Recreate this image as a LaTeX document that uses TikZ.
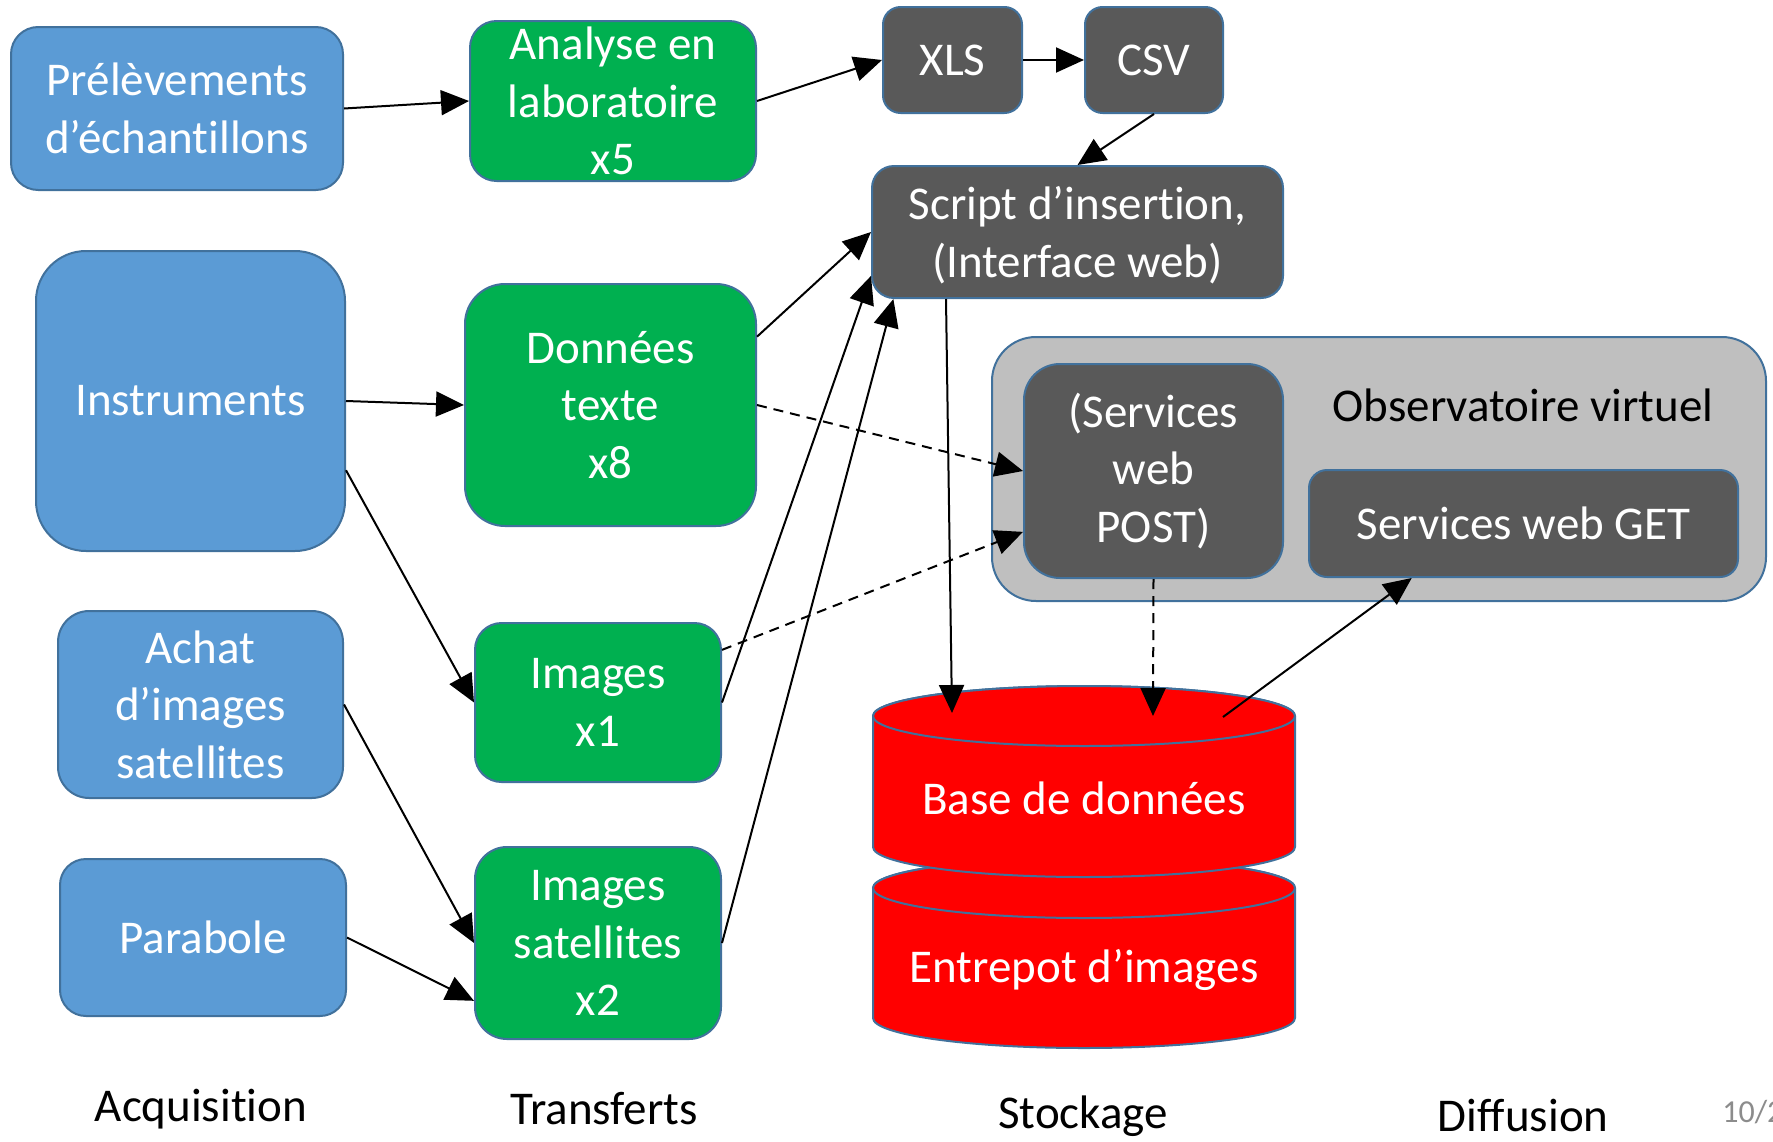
\documentclass[tikz,border=0pt]{standalone}
\usepackage{fontspec}
\setmainfont[RawFeature={-liga}]{Carlito}
\usetikzlibrary{arrows.meta,calc}
\definecolor{bordc}{HTML}{41719C}
\definecolor{bluef}{HTML}{5B9BD5}
\definecolor{greenf}{HTML}{00B050}
\definecolor{darkf}{HTML}{595959}
\definecolor{grayf}{HTML}{BFBFBF}
\definecolor{redf}{HTML}{FF0000}
\definecolor{pnumc}{HTML}{8C8C8C}
\newcommand\fs{\fontsize{23.5pt}{28.8pt}\selectfont}
\begin{document}
\begin{tikzpicture}[x=0.5pt,y=-0.5pt,
  box/.style={rectangle, draw=bordc, line width=1pt, align=center, text=white, font=\fs, inner sep=0pt},
  bluebox/.style={box, fill=bluef},
  greenbox/.style={box, fill=greenf},
  darkbox/.style={box, fill=darkf},
  graybox/.style={box, fill=grayf},
  boxtext/.style={align=center, text=white, font=\fs, inner sep=0pt},
  lbl/.style={align=center, text=black, font=\fs, inner sep=0pt},
  arr/.style={-{Triangle[length=14pt,width=12.5pt]}, line width=1pt, black},
  dsh/.style={dash pattern=on 5pt off 3.5pt},
  cyl/.style={fill=redf, draw=bordc, line width=1pt}
]
\fill[white] (0,0) rectangle (1773,1141);
\useasboundingbox (0,0) rectangle (1773,1141);

% Acquisition column
\node[bluebox, minimum width=166pt, minimum height=81.5pt, rounded corners=13.6pt] (prel) at (177,108.5) {Prélèvements\\d’échantillons};
\node[bluebox, minimum width=154.5pt, minimum height=150pt, rounded corners=25pt] (inst) at (190.5,401) {Instruments};
\node[bluebox, minimum width=142.5pt, minimum height=93.5pt, rounded corners=15.6pt] (achat) at (200.5,704.5) {Achat\\d’images\\satellites};
\node[bluebox, minimum width=143pt, minimum height=78.5pt, rounded corners=13pt] (para) at (203,937.5) {Parabole};

% Transferts column
\node[greenbox, minimum width=143pt, minimum height=80pt, rounded corners=13.3pt] (ana) at (613,101) {};
\node[boxtext] (anatext) at (ana.center) {Analyse en\\laboratoire\\x5};
\node[greenbox, minimum width=145.5pt, minimum height=121pt, rounded corners=20pt] (don) at (610.5,405) {Données\\texte\\x8};
\node[greenbox, minimum width=123pt, minimum height=79.5pt, rounded corners=13.3pt] (img1) at (598,702.5) {Images\\x1};
\node[greenbox, minimum width=123pt, minimum height=96pt, rounded corners=16pt] (img2) at (598,943) {Images\\satellites\\x2};

% Processing
\node[darkbox, minimum width=69.5pt, minimum height=53pt, rounded corners=8.8pt] (xls) at (952.5,60) {XLS};
\node[darkbox, minimum width=69pt, minimum height=53pt, rounded corners=8.8pt] (csv) at (1154,60) {CSV};
\node[darkbox, minimum width=205.5pt, minimum height=66pt, rounded corners=11pt] (script) at (1077.5,232) {};
\node[boxtext] (scripttext) at (1077.5,235) {Script d’insertion,\\(Interface web)};

% Observatoire virtuel
\node[graybox, minimum width=387pt, minimum height=132pt, rounded corners=22pt] (obs) at (1379,469) {};
\node[lbl] (obstext) at (1523,405) {Observatoire virtuel};
\node[darkbox, minimum width=129.5pt, minimum height=107pt, rounded corners=18pt] (post) at (1153.5,471) {(Services\\web\\POST)};
\node[darkbox, minimum width=214.5pt, minimum height=53.5pt, rounded corners=9pt] (get) at (1523.5,523.5) {Services web GET};

% Cylinders (Entrepot below, Base de donnees on top)
\filldraw[cyl] (873,888) -- (873,1018) arc[start angle=180, end angle=360, x radius=105.5pt, y radius=15pt] -- (1295,888) arc[start angle=0, end angle=180, x radius=105.5pt, y radius=15pt] -- cycle;
\draw[cyl] (1084,888) ellipse [x radius=105.5pt, y radius=15pt];
\filldraw[cyl] (873,716) -- (873,847) arc[start angle=180, end angle=360, x radius=105.5pt, y radius=15pt] -- (1295,716) arc[start angle=0, end angle=180, x radius=105.5pt, y radius=15pt] -- cycle;
\draw[cyl] (1084,716) ellipse [x radius=105.5pt, y radius=15pt];
\node[boxtext] (dbtext) at (1084,798) {Base de données};
\node[boxtext] (enttext) at (1084,970) {Entrepot d’images};
\coordinate (dbA) at (952,713);
\coordinate (dbB) at (1153,716);
\coordinate (dbC) at (1223,717);

% Column labels
\node[lbl] (lacq) at (201,1109) {Acquisition};
\node[lbl] (ltr) at (604,1109) {Transferts};
\node[lbl] (lsto) at (1083,1116) {Stockage};
\node[lbl] (ldif) at (1523,1115) {Diffusion};
\node[anchor=west, inner sep=0pt, text=pnumc, font=\fontsize{16pt}{19pt}\selectfont] (pnum) at (1722,1112) {10/2};

% Connectors
\draw[arr] (prel.east) -- (ana.west);
\draw[arr] (ana.east) -- (xls.west);
\draw[arr] (xls.east) -- (csv.west);
\draw[arr] (csv.south) -- (script.north);
\draw[arr] (don.25) -- (script.west);
\draw[arr] (img1.east) -- (script.192);
\draw[arr] (img2.east) -- (script.200);
\draw[arr] (inst.east) -- (don.west);
\draw[arr] (inst.-24) -- (img1.west);
\draw[arr] (achat.east) -- (img2.west);
\draw[arr] (para.east) -- (img2.205);
\draw[arr,dsh] (don.east) -- (post.west);
\draw[arr,dsh] (img1.23) -- (post.205);
\draw[arr,dsh] (post.south) -- (dbB);
\draw[arr] (script.207) -- (dbA);
\draw[arr] (dbC) -- (get.206);
\end{tikzpicture}
\end{document}
